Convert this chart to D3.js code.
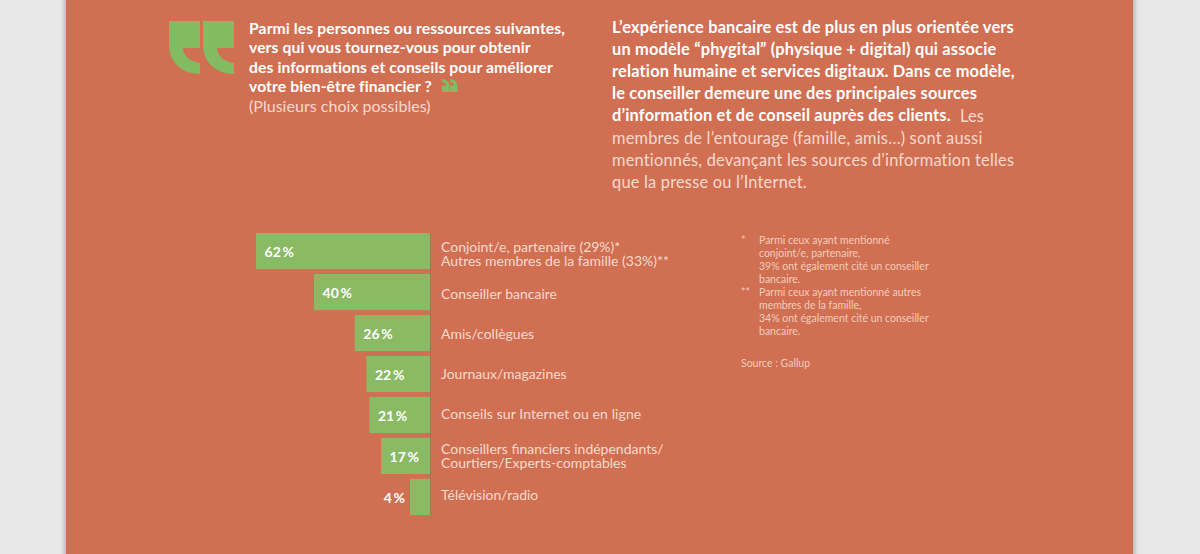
<!DOCTYPE html>
<html>
<head>
<meta charset="utf-8">
<script src="https://cdn.jsdelivr.net/npm/d3@7"></script>
<style>
  html, body { margin: 0; padding: 0; background: #e8e8e8; overflow: hidden; }
  text { font-family: Lato, "Open Sans", sans-serif; }
</style>
</head>
<body>
<svg id="chart" width="1200" height="554"></svg>
<script>
var categories = ["conjoint", "conseiller", "amis", "presse", "internet", "independants", "tv"];
var values = [62, 40, 26, 22, 21, 17, 4];
var barLabels = [
  ["Conjoint/e, partenaire (29%)*", "Autres membres de la famille (33%)**"],
  ["Conseiller bancaire"],
  ["Amis/collègues"],
  ["Journaux/magazines"],
  ["Conseils sur Internet ou en ligne"],
  ["Conseillers financiers indépendants/", "Courtiers/Experts-comptables"],
  ["Télévision/radio"]
];
var questionBold = [
  "Parmi les personnes ou ressources suivantes,",
  "vers qui vous tournez-vous pour obtenir",
  "des informations et conseils pour améliorer",
  "votre bien-être financier ?"
];
var questionLight = ["(Plusieurs choix possibles)"];
var introBold = [
  "L’expérience bancaire est de plus en plus orientée vers",
  "un modèle “phygital” (physique + digital) qui associe",
  "relation humaine et services digitaux. Dans ce modèle,",
  "le conseiller demeure une des principales sources",
  "d’information et de conseil auprès des clients."
];
var introLight = [
  "Les",
  "membres de l’entourage (famille, amis…) sont aussi",
  "mentionnés, devançant les sources d’information telles",
  "que la presse ou l’Internet."
];
var notes = [
  { mark: "*", lines: ["Parmi ceux ayant mentionné", "conjoint/e, partenaire,", "39% ont également cité un conseiller", "bancaire."] },
  { mark: "**", lines: ["Parmi ceux ayant mentionné autres", "membres de la famille,", "34% ont également cité un conseiller", "bancaire."] }
];
var source = "Source : Gallup";

var ORANGE = "#d06f52", GREEN = "#8aba63", QUOTE = "#82bb62", LIGHT = "#f7dacd", NOTE = "#f3cdbd";

var svg = d3.select("#chart");

// page with its soft shadow
var blur = svg.append("defs").append("filter").attr("id", "soft")
  .attr("x", "-5%").attr("width", "110%");
blur.append("feGaussianBlur").attr("stdDeviation", 2);
svg.append("rect").attr("x", 64).attr("y", -10).attr("width", 1071).attr("height", 574)
  .attr("fill", "#b5b5b5").attr("filter", "url(#soft)");
svg.append("rect").attr("x", 66).attr("y", 0).attr("width", 1067).attr("height", 554).attr("fill", ORANGE);

// the 4% bar is drawn wider than its share in the original, hence the extra stops
var x = d3.scaleLinear().domain([0, 4, 17, 40, 62]).range([430, 410, 381, 314, 256]);
var y = d3.scaleBand().domain(categories).range([233, 515]).paddingInner(0.117);

svg.selectAll("rect.bar")
  .data(categories)
  .enter().append("rect")
  .attr("class", "bar")
  .attr("x", function(d, i) { return x(values[i]); })
  .attr("y", function(d) { return y(d); })
  .attr("width", function(d, i) { return x(0) - x(values[i]); })
  .attr("height", y.bandwidth())
  .attr("fill", GREEN);

svg.append("line")
  .attr("x1", x(0) + 0.5).attr("x2", x(0) + 0.5)
  .attr("y1", 233).attr("y2", 515)
  .attr("stroke", "#9a7a55").attr("stroke-width", 1);

// value labels
svg.selectAll("text.value")
  .data(categories)
  .enter().append("text")
  .attr("class", "value")
  .attr("x", function(d, i) { return i == 6 ? x(values[i]) - 5 : x(values[i]) + 38; })
  .attr("y", function(d) { return y(d) + y.bandwidth() / 2 + 6; })
  .attr("text-anchor", "end")
  .attr("font-size", 14)
  .attr("font-weight", 700)
  .attr("fill", "#fff")
  .text(function(d, i) { return values[i] + "\u2009%"; });

// category labels, which do not sit quite centred on their bars
var labelNudge = [3, 2, 1, 0, -1, 0, -2];
barLabels.forEach(function(lines, i) {
  var mid = y(categories[i]) + y.bandwidth() / 2 + labelNudge[i];
  lines.forEach(function(line, j) {
    svg.append("text")
      .attr("x", 441)
      .attr("y", mid + 5 + (j - (lines.length - 1) / 2) * 14.3)
      .attr("font-size", 14)
      .attr("letter-spacing", i == 4 ? 0.1 : 0)
      .attr("fill", LIGHT)
      .text(line);
  });
});

function block(lines, xPos, yStart, lead, size, weight, color, spacing) {
  lines.forEach(function(line, i) {
    svg.append("text")
      .attr("x", xPos)
      .attr("y", yStart + i * lead)
      .attr("font-size", size)
      .attr("font-weight", weight)
      .attr("letter-spacing", spacing)
      .attr("fill", color)
      .text(line);
  });
}

// question
block(questionBold, 249, 34, 19.3, 15.7, 700, "#fff", 0.1);
block(questionLight, 249, 111.5, 19.3, 16, 400, LIGHT, 0.03);

// intro
block(introBold, 612, 33, 22.1, 16.4, 700, "#fff", 0.17);
block([introLight[0]], 960, 121.5, 22.1, 16.4, 400, LIGHT, 0.17);
block(introLight.slice(1), 612, 144, 22.1, 16.4, 400, LIGHT, 0.2);

// notes
var noteLine = 0;
notes.forEach(function(n) {
  svg.append("text").attr("x", 741).attr("y", 244 + noteLine * 13)
    .attr("font-size", 10.5).attr("fill", NOTE).text(n.mark);
  n.lines.forEach(function(line) {
    svg.append("text").attr("x", 759).attr("y", 244 + noteLine * 13)
      .attr("font-size", 10.5).attr("fill", NOTE).text(line);
    noteLine++;
  });
});
svg.append("text").attr("x", 741).attr("y", 367)
  .attr("font-size", 10.5).attr("fill", NOTE).text(source);

// quote marks
var quoteShape = "M0,0H31V27H14C14,35 22,41 31,42V53C14,53 0,42 0,24Z";
function quote(px, py, sx, sy) {
  svg.append("path")
    .attr("transform", "translate(" + px + "," + py + ") scale(" + sx + "," + sy + ")")
    .attr("d", quoteShape)
    .attr("fill", QUOTE);
}
quote(169, 21, 1, 1);
quote(203, 21, 1, 1);
quote(449.5, 92, -0.24, -0.245);
quote(457.5, 92, -0.24, -0.245);
</script>
</body>
</html>
